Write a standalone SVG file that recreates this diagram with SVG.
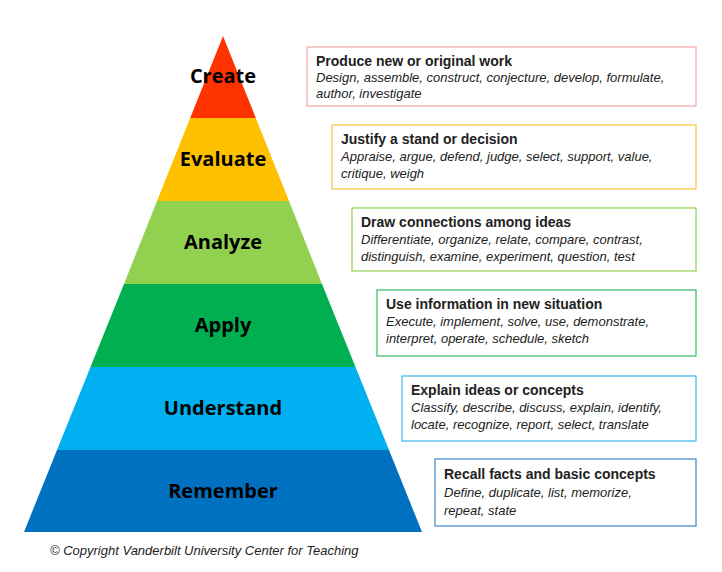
<svg xmlns="http://www.w3.org/2000/svg" width="722" height="572" viewBox="0 0 722 572">
<style>
.lv{font-family:"Open Sans","Noto Sans",sans-serif;font-weight:bold;font-size:20px;fill:#000;text-anchor:middle}
.h{font-family:"Liberation Sans",Arial,sans-serif;font-weight:bold;font-size:14px;fill:#222}
.t{font-family:"Liberation Sans",Arial,sans-serif;font-style:italic;font-size:13px;fill:#222}
.bx{fill:#fff;stroke-width:1.2}
</style>
<rect width="722" height="572" fill="#fff"/>
<g id="create"><polygon points="223,36 190.2,118 255.8,118" fill="#ff3300"/><text class="lv" x="223" y="83">Create</text></g>
<g id="evaluate"><polygon points="190.2,118 255.8,118 289,201 157,201" fill="#ffc000"/><text class="lv" x="223" y="166">Evaluate</text></g>
<g id="analyze"><polygon points="157,201 289,201 322,284 124,284" fill="#92d050"/><text class="lv" x="223" y="249">Analyze</text></g>
<g id="apply"><polygon points="124,284 322,284 355.5,367 90.5,367" fill="#00b050"/><text class="lv" x="223" y="332">Apply</text></g>
<g id="understand"><polygon points="90.5,367 355.5,367 389,450 57,450" fill="#00b0f0"/><text class="lv" x="223" y="415">Understand</text></g>
<g id="remember"><polygon points="57,450 389,450 422,532 24,532" fill="#0070c0"/><text class="lv" x="223" y="498">Remember</text></g>
<g id="box1"><rect class="bx" x="307" y="47" width="389" height="59" stroke="#f4a3a3"/><text class="h" x="316" y="66">Produce new or original work</text><text class="t" x="316" y="82">Design, assemble, construct, conjecture, develop, formulate,</text><text class="t" x="316" y="98">author, investigate</text></g>
<g id="box2"><rect class="bx" x="332" y="125" width="364" height="64" stroke="#f5c342"/><text class="h" x="341" y="144">Justify a stand or decision</text><text class="t" x="341" y="161">Appraise, argue, defend, judge, select, support, value,</text><text class="t" x="341" y="178">critique, weigh</text></g>
<g id="box3"><rect class="bx" x="352" y="208" width="344" height="63" stroke="#92d050"/><text class="h" x="361" y="227">Draw connections among ideas</text><text class="t" x="361" y="244">Differentiate, organize, relate, compare, contrast,</text><text class="t" x="361" y="261">distinguish, examine, experiment, question, test</text></g>
<g id="box4"><rect class="bx" x="377" y="290" width="319" height="66" stroke="#33b865"/><text class="h" x="386" y="309">Use information in new situation</text><text class="t" x="386" y="326">Execute, implement, solve, use, demonstrate,</text><text class="t" x="386" y="343">interpret, operate, schedule, sketch</text></g>
<g id="box5"><rect class="bx" x="402" y="376" width="294" height="65" stroke="#3db8ec"/><text class="h" x="411" y="395">Explain ideas or concepts</text><text class="t" x="411" y="412">Classify, describe, discuss, explain, identify,</text><text class="t" x="411" y="429">locate, recognize, report, select, translate</text></g>
<g id="box6"><rect class="bx" x="435" y="459" width="261" height="67" stroke="#3a86c8"/><text class="h" x="444" y="479">Recall facts and basic concepts</text><text class="t" x="444" y="497">Define, duplicate, list, memorize,</text><text class="t" x="444" y="515">repeat, state</text></g>
<text class="t" x="50" y="555">© Copyright Vanderbilt University Center for Teaching</text>
</svg>
